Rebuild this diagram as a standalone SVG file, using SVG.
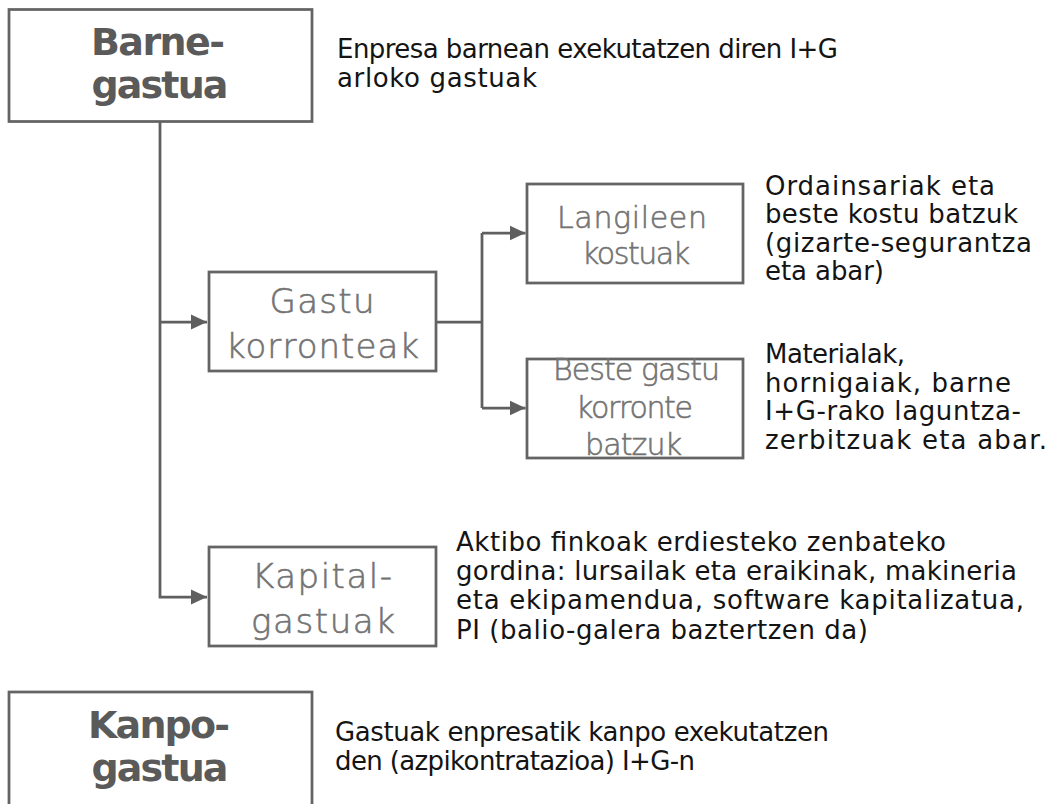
<svg xmlns="http://www.w3.org/2000/svg" width="1051" height="804" viewBox="0 0 1051 804">
<style>
.box{fill:#fff;stroke:#646464;stroke-width:2.75}
.bold{font-family:"DejaVu Sans","Liberation Sans",sans-serif;font-weight:bold;font-size:38px;fill:#5a5a5a;text-anchor:middle}
.light{font-family:"DejaVu Sans","Liberation Sans",sans-serif;font-weight:200;fill:#737373;stroke:#737373;stroke-width:0.6;text-anchor:middle}
.desc{font-family:"DejaVu Sans","Liberation Sans",sans-serif;font-size:26px;fill:#141414}
.conn{fill:none;stroke:#5f5f5f;stroke-width:2.75}
</style>
<defs>
<marker id="arr" markerUnits="userSpaceOnUse" markerWidth="16" markerHeight="16" viewBox="0 0 16 16" refX="16" refY="8" orient="auto">
<path d="M0,0.5 L16,8 L0,15.5 Z" fill="#5f5f5f"/>
</marker>
</defs>
<rect width="1051" height="804" fill="#fff"/>
<g id="connectors">
<path class="conn" d="M160,122 V597 H207" marker-end="url(#arr)"/>
<path class="conn" d="M160,322 H207" marker-end="url(#arr)"/>
<path class="conn" d="M436,322 H482"/>
<path class="conn" d="M482,233 V408"/>
<path class="conn" d="M482,233 H525.5" marker-end="url(#arr)"/>
<path class="conn" d="M482,408 H525.5" marker-end="url(#arr)"/>
</g>
<g id="barne">
<rect class="box" x="9" y="9.5" width="303" height="112"/>
<text class="bold" x="158" y="55" textLength="134">Barne-</text>
<text class="bold" x="160" y="98" textLength="137">gastua</text>
</g>
<g id="barne-desc">
<text class="desc" x="337" y="58" textLength="501">Enpresa barnean exekutatzen diren I+G</text>
<text class="desc" x="337" y="87" textLength="200">arloko gastuak</text>
</g>
<g id="gastu">
<rect class="box" x="209" y="272" width="227" height="99"/>
<text class="light" x="322" y="313" font-size="34" textLength="105">Gastu</text>
<text class="light" x="322.5" y="358" font-size="34" textLength="193">korronteak</text>
</g>
<g id="langileen">
<rect class="box" x="527" y="184" width="216" height="99"/>
<text class="light" x="632" y="228" font-size="30" textLength="150">Langileen</text>
<text class="light" x="636" y="264" font-size="30" textLength="108">kostuak</text>
</g>
<g id="langileen-desc">
<text class="desc" x="765" y="195" textLength="230">Ordainsariak eta</text>
<text class="desc" x="765" y="223" textLength="253">beste kostu batzuk</text>
<text class="desc" x="765" y="252" textLength="267">(gizarte-segurantza</text>
<text class="desc" x="765" y="280" textLength="119">eta abar)</text>
</g>
<g id="beste">
<rect class="box" x="527" y="359" width="216" height="99"/>
<text class="light" x="636.5" y="380" font-size="30" textLength="167">Beste gastu</text>
<text class="light" x="634.5" y="418" font-size="30" textLength="117">korronte</text>
<text class="light" x="633.5" y="455" font-size="30" textLength="97">batzuk</text>
</g>
<g id="beste-desc">
<text class="desc" x="765" y="363" textLength="140">Materialak,</text>
<text class="desc" x="765" y="391.5" textLength="246">hornigaiak, barne</text>
<text class="desc" x="765" y="420" textLength="256">I+G-rako laguntza-</text>
<text class="desc" x="765" y="448.5" textLength="282">zerbitzuak eta abar.</text>
</g>
<g id="kapital">
<rect class="box" x="209" y="547" width="227" height="99"/>
<text class="light" x="322" y="588" font-size="34" textLength="140">Kapital-</text>
<text class="light" x="323" y="633" font-size="34" textLength="144">gastuak</text>
</g>
<g id="kapital-desc">
<text class="desc" x="456" y="551" textLength="490">Aktibo finkoak erdiesteko zenbateko</text>
<text class="desc" x="456" y="580" textLength="561">gordina: lursailak eta eraikinak, makineria</text>
<text class="desc" x="456" y="609" textLength="568">eta ekipamendua, software kapitalizatua,</text>
<text class="desc" x="456" y="639" textLength="412">PI (balio-galera baztertzen da)</text>
</g>
<g id="kanpo">
<rect class="box" x="9" y="692" width="303" height="200"/>
<text class="bold" x="159" y="737.5" textLength="142">Kanpo-</text>
<text class="bold" x="160" y="780.5" textLength="137">gastua</text>
</g>
<g id="kanpo-desc">
<text class="desc" x="335" y="741" textLength="494">Gastuak enpresatik kanpo exekutatzen</text>
<text class="desc" x="335" y="770" textLength="360">den (azpikontratazioa) I+G-n</text>
</g>
</svg>
